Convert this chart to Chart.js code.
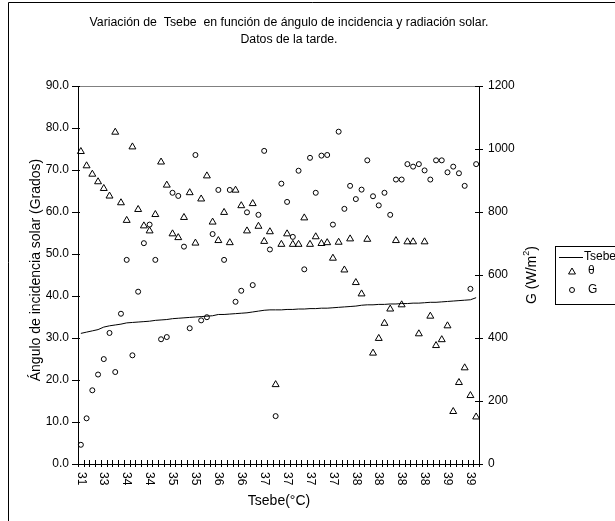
<!DOCTYPE html>
<html>
<head>
<meta charset="utf-8">
<script src="https://cdn.jsdelivr.net/npm/chart.js@4.4.1/dist/chart.umd.min.js"></script>
<style>
  html, body { margin: 0; padding: 0; background: #fff; }
  canvas { display: block; }
</style>
</head>
<body>
<canvas id="chart" width="615" height="521"></canvas>
<script>
// afternoon readings, sorted by Tsebe (°C)
var tsebe = [31.1, 31.4, 31.7, 32.0, 32.6, 32.9, 33.1, 33.3, 33.6, 33.7,
             33.8, 33.9, 34.0, 34.2, 34.3, 34.4, 34.6, 34.7, 34.8, 34.9,
             35.0, 35.1, 35.2, 35.3, 35.6, 35.6, 35.7, 35.8, 35.9, 36.0,
             36.2, 36.4, 36.6, 36.7, 36.7, 36.7, 36.8, 36.8, 36.9, 36.9,
             37.0, 37.0, 37.1, 37.1, 37.2, 37.3, 37.4, 37.5, 37.6, 37.8,
             37.9, 37.9, 38.0, 38.0, 38.1, 38.1, 38.2, 38.2, 38.3, 38.3,
             38.4, 38.5, 38.5, 38.6, 38.7, 38.8, 38.9, 39.0, 39.1, 39.6];

// angle of incidence (degrees)
var theta = [74.4, 71.0, 69.0, 67.2, 65.6, 63.8, 79.0, 62.2, 58.0, 75.5,
             60.6, 56.7, 55.5, 59.4, 71.9, 66.4, 54.8, 53.9, 58.7, 64.6,
             52.6, 63.1, 68.6, 57.6, 53.2, 59.9, 52.7, 65.2, 61.5, 55.5,
             62.0, 56.6, 53.0, 55.3, 18.9, 52.3, 54.8, 52.3, 52.3, 58.6,
             52.3, 54.1, 52.5, 52.7, 49.0, 52.8, 46.2, 53.6, 43.2, 40.5,
             53.5, 26.4, 29.9, 33.5, 36.9, 53.2, 37.9, 52.9, 52.9, 31.0,
             52.9, 35.2, 28.2, 29.6, 32.9, 12.5, 19.4, 22.9, 16.3, 11.2];

// solar radiation G (W/m2)
var radiation = [61, 145, 234, 284, 333, 416, 292, 477, 648, 345,
                 547, 701, 760, 648, 396, 403, 861, 851, 690, 431,
                 981, 456, 466, 730, 870, 648, 870, 515, 550, 799,
                 568, 791, 994, 681, 152, 890, 832, 721, 931, 618,
                 972, 861, 979, 981, 760, 1055, 810, 883, 841, 871,
                 964, 850, 821, 861, 791, 903, 903, 952, 944, 952,
                 932, 903, 964, 964, 926, 944, 923, 883, 556, 952];

var titleLines = ['Variación de  Tsebe  en función de ángulo de incidencia y radiación solar.',
                  'Datos de la tarde.'];
var FONT = '"Liberation Sans", Arial, sans-serif';

Chart.defaults.color = '#000';
Chart.defaults.font.family = FONT;
Chart.defaults.font.size = 12;

// frame, titles, tick marks, rotated category labels and the legend box
var decorations = {
  id: 'decorations',
  afterDraw: function(chart) {
    var ctx = chart.ctx;
    var area = chart.chartArea;
    var xs = chart.scales.x, ys = chart.scales.y, ys1 = chart.scales.y1;
    ctx.save();

    // outer frame
    ctx.strokeStyle = '#000';
    ctx.lineWidth = 1;
    ctx.beginPath();
    ctx.moveTo(8.5, 530);
    ctx.lineTo(8.5, 2.5);
    ctx.lineTo(620, 2.5);
    ctx.stroke();

    // plot area top edge
    ctx.strokeStyle = '#808080';
    ctx.beginPath();
    ctx.moveTo(area.left, area.top + 0.5);
    ctx.lineTo(area.right, area.top + 0.5);
    ctx.stroke();

    // chart title
    ctx.fillStyle = '#000';
    ctx.font = '12.3px ' + FONT;
    ctx.textAlign = 'center';
    ctx.textBaseline = 'middle';
    ctx.fillText(titleLines[0], 289, 23);
    ctx.fillText(titleLines[1], 289, 40);

    // tick marks
    ctx.strokeStyle = '#000';
    ctx.beginPath();
    var step = xs.getPixelForValue(1) - xs.getPixelForValue(0);
    var x0 = xs.getPixelForValue(0) - step / 2;
    for (var i = 0; i <= tsebe.length; i++) {
      var tx = Math.round(x0 + i * step) + 0.5;
      ctx.moveTo(tx, area.bottom - 4);
      ctx.lineTo(tx, area.bottom + 3);
    }
    ys.ticks.forEach(function(t) {
      var ty = Math.round(ys.getPixelForValue(t.value)) + 0.5;
      ctx.moveTo(area.left - 6, ty);
      ctx.lineTo(area.left + 2, ty);
    });
    ys1.ticks.forEach(function(t) {
      var ty = Math.round(ys1.getPixelForValue(t.value)) + 0.5;
      ctx.moveTo(area.right - 4, ty);
      ctx.lineTo(area.right + 4, ty);
    });
    ctx.stroke();

    // category labels, every fourth, turned clockwise
    ctx.font = '12px ' + FONT;
    ctx.textAlign = 'left';
    ctx.textBaseline = 'middle';
    for (var j = 0; j < tsebe.length; j += 4) {
      ctx.save();
      ctx.translate(xs.getPixelForValue(j), area.bottom + 8);
      ctx.rotate(Math.PI / 2);
      ctx.fillText(String(Math.round(tsebe[j])), 0, 0);
      ctx.restore();
    }

    // axis titles
    ctx.font = '14px ' + FONT;
    ctx.textAlign = 'center';
    ctx.fillText('Tsebe(°C)', 279, 501);

    ctx.save();
    ctx.translate(36, 270);
    ctx.rotate(-Math.PI / 2);
    ctx.fillText('Ángulo de incidencia solar (Grados)', 0, 0);
    ctx.restore();

    ctx.save();
    ctx.translate(532, 275);
    ctx.rotate(-Math.PI / 2);
    var partA = 'G (W/m', partB = ')';
    ctx.font = '14px ' + FONT;
    var wA = ctx.measureText(partA).width, wB = ctx.measureText(partB).width;
    ctx.font = '9px ' + FONT;
    var wS = ctx.measureText('2').width;
    var sx = -(wA + wS + wB) / 2;
    ctx.textAlign = 'left';
    ctx.font = '14px ' + FONT;
    ctx.fillText(partA, sx, 0);
    ctx.font = '9px ' + FONT;
    ctx.fillText('2', sx + wA, -5);
    ctx.font = '14px ' + FONT;
    ctx.fillText(partB, sx + wA + wS, 0);
    ctx.restore();

    // legend
    ctx.strokeStyle = '#000';
    ctx.strokeRect(555.5, 246.5, 80, 58);
    ctx.beginPath();
    ctx.moveTo(559, 257.5);
    ctx.lineTo(583, 257.5);
    ctx.stroke();
    ctx.font = '12px ' + FONT;
    ctx.textAlign = 'left';
    ctx.fillText('Tsebe', 584, 257);
    ctx.fillText('θ', 588, 271);
    ctx.fillText('G', 588, 290);
    ctx.fillStyle = 'rgba(0,0,0,0)';
    Chart.helpers.drawPoint(ctx, {pointStyle: 'triangle', radius: 4, borderWidth: 1}, 572, 272);
    Chart.helpers.drawPoint(ctx, {pointStyle: 'circle', radius: 2.5, borderWidth: 1}, 572, 290);

    ctx.restore();
  }
};

new Chart(document.getElementById('chart'), {
  type: 'line',
  data: {
    labels: tsebe,
    datasets: [
      {
        label: 'Tsebe',
        data: tsebe,
        yAxisID: 'y',
        borderColor: '#000',
        borderWidth: 1,
        pointRadius: 0,
        tension: 0
      },
      {
        label: 'θ',
        data: theta,
        yAxisID: 'y',
        showLine: false,
        pointStyle: 'triangle',
        pointRadius: 4,
        pointBorderWidth: 1,
        borderColor: '#000',
        backgroundColor: 'rgba(0,0,0,0)'
      },
      {
        label: 'G',
        data: radiation,
        yAxisID: 'y1',
        showLine: false,
        pointStyle: 'circle',
        pointRadius: 2.5,
        pointBorderWidth: 1,
        borderColor: '#000',
        backgroundColor: 'rgba(0,0,0,0)'
      }
    ]
  },
  options: {
    responsive: false,
    animation: false,
    events: [],
    layout: { padding: { top: 86, left: 0, right: 0, bottom: 0 } },
    plugins: {
      legend: { display: false },
      title: { display: false },
      tooltip: { enabled: false }
    },
    scales: {
      x: {
        type: 'category',
        offset: true,
        grid: { display: false },
        border: { color: '#000', width: 1 },
        ticks: { display: false },
        afterFit: function(s) { s.height = 57; }
      },
      y: {
        position: 'left',
        min: 0,
        max: 90,
        grid: { display: false },
        border: { color: '#000', width: 1 },
        ticks: {
          stepSize: 10,
          padding: 1,
          callback: function(v) { return v.toFixed(1); }
        },
        afterFit: function(s) { s.width = 78; }
      },
      y1: {
        position: 'right',
        min: 0,
        max: 1200,
        grid: { display: false },
        border: { color: '#000', width: 1 },
        ticks: {
          stepSize: 200,
          padding: 1,
          callback: function(v) { return String(v); }
        },
        afterFit: function(s) { s.width = 136; }
      }
    }
  },
  plugins: [decorations]
});
</script>
</body>
</html>
